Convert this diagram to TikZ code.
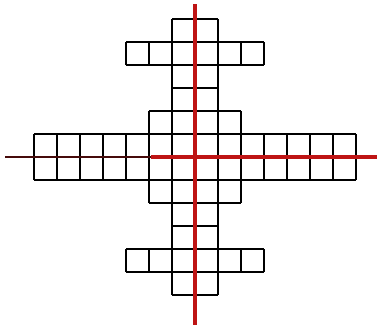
\documentclass[tikz,border=0pt]{standalone}
\usepackage{tikz}
\usetikzlibrary{positioning}
\usepackage{xcolor}

\definecolor{axisred}{RGB}{190,20,20}
\definecolor{axisdark}{RGB}{70,10,10}

\begin{document}
\begin{tikzpicture}[
        x=0.6cm, y=0.6cm,
        gridbox/.style={draw=black, line width=1.4pt, step=0.6cm},
        axisline/.style={draw=axisred, line width=2.4pt}
    ]
    \useasboundingbox (-8.48,-7.57) rectangle (7.91,6.83);

    % horizontal arm and central block
    \draw[gridbox] (-7,-1) grid (7,1);
    \draw[gridbox] (-2,-2) grid (2,2);
    % vertical column
    \draw[gridbox] (-1,-6) grid (1,6);
    % small arms
    \draw[gridbox] (-3,4) grid (3,5);
    \draw[gridbox] (-3,-5) grid (3,-4);

    \draw[axisline, draw=axisdark, line width=2pt] (-8.26,0) -- (-1.9,0);
    \draw[axisline] (-1.9,0) -- (7.91,0);
    \draw[axisline] (0,6.65) -- (0,-7.3);

\end{tikzpicture}
\end{document}
